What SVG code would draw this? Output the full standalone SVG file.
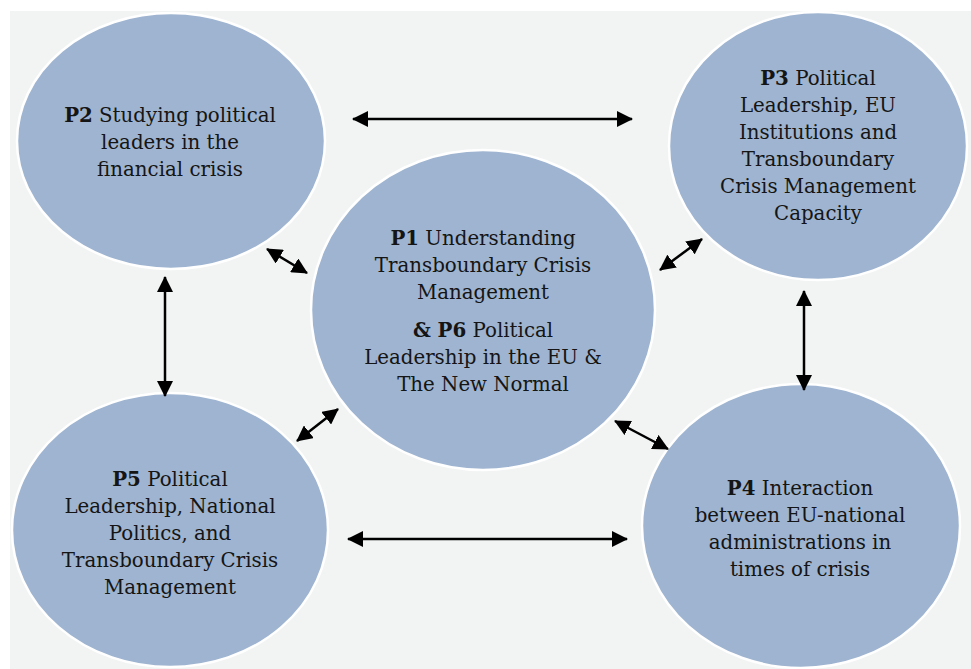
<svg xmlns="http://www.w3.org/2000/svg" width="971" height="669" viewBox="0 0 971 669">
<style>
.node ellipse{fill:#9eb4d0;stroke:#ffffff;stroke-width:2.5}
text{font-family:"DejaVu Serif","Liberation Serif",serif;font-size:19.8px;fill:#151515;text-anchor:middle}
.b{font-weight:bold}
.conn line{stroke:#000;stroke-width:2.5;marker-start:url(#ah);marker-end:url(#ah)}
</style>
<defs>
<marker id="ah" viewBox="0 0 16 16" refX="15" refY="8" markerWidth="16" markerHeight="16" markerUnits="userSpaceOnUse" orient="auto-start-reverse">
<path d="M0,0 L16,8 L0,16 z" fill="#000"/>
</marker>
</defs>
<rect x="0" y="0" width="971" height="669" fill="#ffffff"/>
<rect x="10" y="11" width="961" height="658" fill="#f2f4f3"/>
<g id="P2" class="node">
<ellipse cx="171" cy="141" rx="154" ry="128"/>
<text x="170" y="122"><tspan class="b">P2</tspan> Studying political</text>
<text x="170" y="149">leaders in the</text>
<text x="170" y="176">financial crisis</text>
</g>
<g id="P3" class="node">
<ellipse cx="818" cy="146" rx="149" ry="134"/>
<text x="818" y="85"><tspan class="b">P3</tspan> Political</text>
<text x="818" y="112">Leadership, EU</text>
<text x="818" y="139">Institutions and</text>
<text x="818" y="166">Transboundary</text>
<text x="818" y="193">Crisis Management</text>
<text x="818" y="220">Capacity</text>
</g>
<g id="P1" class="node">
<ellipse cx="483" cy="310" rx="172" ry="160"/>
<text x="483" y="245"><tspan class="b">P1</tspan> Understanding</text>
<text x="483" y="272">Transboundary Crisis</text>
<text x="483" y="299">Management</text>
<text x="483" y="337"><tspan class="b">&amp; P6</tspan> Political</text>
<text x="483" y="364">Leadership in the EU &amp;</text>
<text x="483" y="391">The New Normal</text>
</g>
<g id="P5" class="node">
<ellipse cx="170" cy="530" rx="158" ry="137"/>
<text x="170" y="486"><tspan class="b">P5</tspan> Political</text>
<text x="170" y="513">Leadership, National</text>
<text x="170" y="540">Politics, and</text>
<text x="170" y="567">Transboundary Crisis</text>
<text x="170" y="594">Management</text>
</g>
<g id="P4" class="node">
<ellipse cx="801" cy="526" rx="159" ry="142"/>
<text x="800" y="495"><tspan class="b">P4</tspan> Interaction</text>
<text x="800" y="522">between EU-national</text>
<text x="800" y="549">administrations in</text>
<text x="800" y="576">times of crisis</text>
</g>
<g id="connectors" class="conn">
<line x1="353" y1="119" x2="632" y2="119"/>
<line x1="348" y1="539" x2="627" y2="539"/>
<line x1="165" y1="277" x2="165" y2="396"/>
<line x1="804" y1="291" x2="804" y2="390"/>
<line x1="267" y1="249" x2="307" y2="273"/>
<line x1="660" y1="270" x2="702" y2="239"/>
<line x1="297" y1="441" x2="338" y2="409"/>
<line x1="615" y1="421" x2="668" y2="449"/>
</g>
</svg>
